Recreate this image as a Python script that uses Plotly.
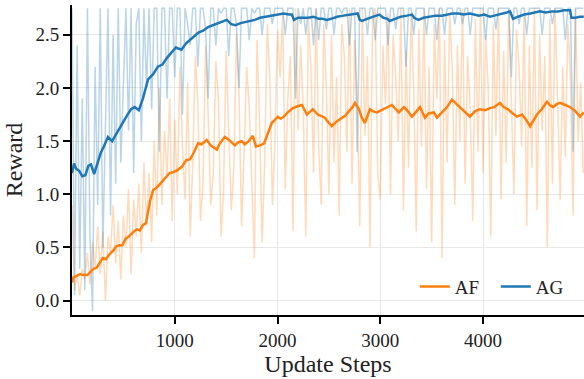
import numpy as np
import plotly.graph_objects as go

# raw logged rewards, every 25 update steps
raw_steps = np.arange(0, 5000, 25)

af_raw = [
    0.9, 0.1, 0.25, 0.05, 0.3, 0.2, 0.45, 0.15, 0.55, 0.3, 0.7, 0.25, 0.65, 0.0, 0.6, 0.45, 0.9, 0.35, 0.75, 0.2,
    0.8, 0.5, 1.05, 0.25, 0.95, 0.6, 1.1, 0.45, 1.3, 0.7, 1.2, 0.55, 1.5, 0.8, 2.0, 0.9, 1.6, 1.15, 1.9, 0.75,
    1.7, 1.0, 2.2, 1.45, 0.95, 2.05, 0.6, 1.3, 2.3, 1.85, 0.75, 1.1, 2.4, 1.75, 0.9, 1.2, 2.25, 1.9, 0.6, 1.05,
    2.35, 1.6, 0.85, 1.25, 2.5, 1.95, 0.7, 1.4, 2.2, 1.8, 1.15, 0.4, 2.45, 1.7, 0.55, 1.3, 2.6, 2.1, 0.9, 1.5,
    2.55, 2.1, 2.7, 1.05, 1.9, 2.3, 0.65, 2.75, 1.6, 2.4, 1.8, 0.6, 2.65, 2.2, 1.2, 2.75, 1.45, 0.9, 2.6, 2.0,
    1.0, 2.5, 1.3, 2.1, 0.8, 2.6, 2.3, 1.4, 2.75, 1.1, 2.45, 1.9, 0.7, 2.75, 1.55, 2.3, 0.5, 2.65, 2.75, 1.2,
    0.95, 2.4, 1.85, 2.7, 1.0, 2.5, 2.1, 1.5, 2.75, 0.85, 2.35, 1.25, 2.7, 2.0, 0.65, 2.55, 1.45, 2.75, 1.05, 2.2,
    0.55, 2.6, 1.9, 2.75, 0.4, 2.45, 1.3, 2.7, 2.2, 0.9, 2.4, 1.5, 2.75, 1.1, 2.3, 1.8, 0.75, 2.65, 1.4, 2.75,
    1.2, 2.5, 2.0, 0.6, 2.6, 1.55, 2.75, 0.95, 2.35, 1.3, 2.75, 1.75, 1.0, 2.55, 2.2, 1.45, 2.7, 0.7, 2.4, 1.25,
    2.75, 0.85, 2.5, 1.6, 2.3, 0.5, 2.65, 1.1, 2.75, 1.9, 0.95, 2.2, 1.35, 2.6, 2.1, 0.8, 2.75, 1.5, 2.05, 1.2,
]

ag_raw = [
    2.75, 0.05, 2.4, 0.3, 1.9, 0.1, 2.75, 0.6, -0.1, 2.2, 0.9, 2.75, 0.5, 1.5, 2.75, 0.8, 2.5, 1.1, 2.75, 1.3,
    2.0, 2.75, 1.6, 2.75, 1.2, 2.6, 2.75, 1.5, 2.75, 2.0, 2.75, 1.8, 2.75, 2.75, 1.4, 2.75, 2.75, 1.9, 2.75, 2.75,
    2.1, 2.75, 2.75, 1.75, 2.75, 2.6, 2.4, 2.75, 2.75, 2.2, 2.75, 2.75, 2.55, 1.9, 2.75, 2.75, 2.4, 2.75, 2.7, 2.75,
    2.75, 2.3, 2.75, 2.75, 2.6, 2.0, 2.75, 2.75, 2.75, 2.45, 2.75, 2.7, 2.75, 2.75, 2.5, 2.75, 2.75, 2.75, 2.6, 2.75,
    2.75, 2.75, 2.75, 2.5, 2.75, 2.75, 2.75, 1.9, 2.75, 2.6, 2.75, 2.5, 2.75, 2.75, 2.4, 2.75, 2.45, 2.75, 2.75, 2.55,
    2.75, 2.75, 2.5, 2.75, 2.75, 2.7, 2.75, 2.75, 2.4, 2.75, 2.75, 1.4, 2.75, 2.75, 2.75, 2.5, 2.75, 2.75, 2.45, 2.75,
    2.75, 2.75, 2.75, 2.4, 2.75, 2.75, 2.55, 2.75, 2.75, 2.75, 2.2, 2.75, 2.75, 2.5, 2.75, 2.75, 2.75, 2.75, 2.5, 2.75,
    2.75, 2.75, 2.45, 2.75, 2.75, 2.5, 2.75, 2.75, 2.75, 2.6, 2.75, 2.75, 2.6, 2.75, 2.75, 2.5, 2.75, 2.75, 2.75, 2.75,
    2.75, 2.45, 2.75, 2.75, 2.75, 2.55, 2.75, 2.75, 2.75, 2.75, 2.75, 2.1, 2.75, 2.75, 2.6, 2.75, 2.75, 2.5, 2.75, 2.75,
    2.75, 2.75, 2.75, 2.5, 2.75, 2.75, 2.75, 2.6, 2.75, 2.75, 2.75, 2.75, 2.45, 2.75, 2.75, 1.4, 2.75, 2.75, 2.75, 2.75,
]

# smoothed curves
af_smooth_x = [0, 15, 40, 80, 110, 150, 180, 210, 240, 270, 300, 330, 360, 400, 430, 460, 490, 520, 550, 590,
               630, 660, 690, 720, 760, 790, 820, 860, 900, 950, 990, 1030, 1070, 1110, 1150, 1190, 1226, 1260,
               1311, 1350, 1409, 1440, 1487, 1530, 1584, 1620, 1652, 1681, 1720, 1759, 1790, 1830, 1870, 1910,
               1944, 1975, 2003, 2030, 2060, 2100, 2149, 2200, 2237, 2260, 2285, 2320, 2343, 2392, 2430, 2460,
               2500, 2528, 2570, 2626, 2660, 2694, 2730, 2753, 2792, 2820, 2850, 2899, 2930, 2967, 3010, 3060,
               3113, 3150, 3181, 3230, 3270, 3308, 3350, 3386, 3435, 3470, 3522, 3551, 3600, 3650, 3697, 3740,
               3775, 3820, 3872, 3920, 3970, 4020, 4067, 4110, 4164, 4200, 4242, 4290, 4330, 4379, 4420, 4457,
               4490, 4525, 4570, 4622, 4650, 4681, 4720, 4749, 4800, 4846, 4900, 4944, 4980]
af_smooth = [0.17, 0.22, 0.23, 0.25, 0.24, 0.24, 0.27, 0.30, 0.31, 0.36, 0.40, 0.39, 0.43, 0.47, 0.51, 0.52, 0.52, 0.58, 0.60, 0.64,
             0.67, 0.66, 0.71, 0.73, 0.94, 1.04, 1.06, 1.10, 1.14, 1.20, 1.21, 1.23, 1.26, 1.32, 1.33, 1.40, 1.48, 1.47,
             1.51, 1.46, 1.42, 1.48, 1.54, 1.51, 1.46, 1.49, 1.50, 1.47, 1.50, 1.55, 1.45, 1.46, 1.48, 1.58,
             1.67, 1.70, 1.73, 1.71, 1.73, 1.77, 1.81, 1.83, 1.84, 1.80, 1.75, 1.78, 1.80, 1.75, 1.73, 1.72,
             1.67, 1.64, 1.68, 1.72, 1.74, 1.78, 1.82, 1.86, 1.80, 1.72, 1.67, 1.80, 1.78, 1.77, 1.79, 1.82,
             1.84, 1.80, 1.77, 1.82, 1.78, 1.73, 1.78, 1.82, 1.72, 1.76, 1.77, 1.72, 1.77, 1.82, 1.89, 1.85,
             1.82, 1.77, 1.73, 1.78, 1.80, 1.79, 1.81, 1.82, 1.86, 1.82, 1.80, 1.76, 1.73, 1.75, 1.70, 1.64,
             1.69, 1.75, 1.80, 1.87, 1.84, 1.82, 1.85, 1.86, 1.84, 1.82, 1.78, 1.73, 1.77]

ag_smooth_x = [0, 20, 40, 70, 100, 130, 160, 185, 215, 250, 280, 310, 350, 390, 430, 475, 510, 540, 575, 610,
               650, 690, 740, 790, 835, 880, 930, 970, 1010, 1065, 1110, 1170, 1230, 1280, 1320, 1370, 1420, 1460,
               1506, 1550, 1590, 1640, 1700, 1740, 1779, 1830, 1880, 1940, 2003, 2060, 2110, 2139, 2160, 2200,
               2260, 2300, 2350, 2400, 2440, 2480, 2520, 2580, 2640, 2700, 2753, 2780, 2800, 2821, 2870, 2930,
               2990, 3030, 3070, 3090, 3140, 3200, 3260, 3308, 3330, 3370, 3420, 3480, 3540, 3600, 3650, 3700,
               3760, 3810, 3872, 3920, 3960, 4010, 4067, 4110, 4160, 4230, 4262, 4291, 4340, 4400, 4460, 4520,
               4554, 4610, 4670, 4730, 4790, 4846, 4860, 4900, 4940, 4980]
ag_smooth = [1.20, 1.29, 1.24, 1.22, 1.17, 1.18, 1.27, 1.28, 1.19, 1.30, 1.39, 1.45, 1.54, 1.50, 1.57, 1.64, 1.70, 1.75, 1.80, 1.82,
             1.79, 1.90, 2.08, 2.13, 2.20, 2.22, 2.29, 2.34, 2.38, 2.36, 2.42, 2.47, 2.52, 2.54, 2.57, 2.59, 2.61, 2.62,
             2.64, 2.60, 2.59, 2.61, 2.62, 2.63, 2.64, 2.66, 2.67, 2.68, 2.69, 2.70, 2.69, 2.69, 2.64, 2.66,
             2.66, 2.66, 2.67, 2.65, 2.65, 2.64, 2.65, 2.67, 2.68, 2.69, 2.70, 2.70, 2.64, 2.63, 2.65, 2.67,
             2.69, 2.66, 2.65, 2.63, 2.65, 2.67, 2.68, 2.69, 2.66, 2.64, 2.66, 2.67, 2.68, 2.68, 2.69, 2.70,
             2.70, 2.69, 2.70, 2.69, 2.68, 2.69, 2.67, 2.68, 2.69, 2.71, 2.72, 2.65, 2.67, 2.69, 2.70, 2.71,
             2.72, 2.71, 2.72, 2.72, 2.73, 2.73, 2.66, 2.66, 2.67, 2.67]

x_ticks = [1000, 2000, 3000, 4000]
y_ticks = [0.0, 0.5, 1.0, 1.5, 2.0, 2.5]

ORANGE = "#ff7f0e"
BLUE = "#1f77b4"
FONT = "Liberation Serif"

fig = go.Figure()
fig.add_trace(go.Scatter(x=raw_steps, y=af_raw, mode="lines", line=dict(color=ORANGE, width=1.5),
                         opacity=0.28, showlegend=False, hoverinfo="skip"))
fig.add_trace(go.Scatter(x=raw_steps, y=ag_raw, mode="lines", line=dict(color=BLUE, width=1.5),
                         opacity=0.3, showlegend=False, hoverinfo="skip"))
fig.add_trace(go.Scatter(x=af_smooth_x, y=af_smooth, mode="lines", name="AF",
                         line=dict(color=ORANGE, width=2.5)))
fig.add_trace(go.Scatter(x=ag_smooth_x, y=ag_smooth, mode="lines", name="AG",
                         line=dict(color=BLUE, width=2.5)))

axis_common = dict(showline=True, linecolor="black", linewidth=2, ticks="outside", ticklen=7,
                   tickwidth=1.5, tickcolor="black", showgrid=True, gridcolor="#e8e8e8", gridwidth=1,
                   zeroline=False, tickfont=dict(family=FONT, size=19, color="#222"))

fig.update_layout(
    width=584, height=379,
    margin=dict(l=72, r=0, t=5, b=64),
    plot_bgcolor="white", paper_bgcolor="white",
    font=dict(family=FONT, color="#222"),
    xaxis=dict(range=[0, 4982], tickvals=x_ticks, ticktext=[str(v) for v in x_ticks],
               title=dict(text="Update Steps", font=dict(family=FONT, size=24), standoff=4),
               **axis_common),
    yaxis=dict(range=[-0.135, 2.78], tickvals=y_ticks, ticktext=[f"{v:.1f}" for v in y_ticks],
               title=dict(text="Reward", font=dict(family=FONT, size=24), standoff=6),
               **axis_common),
    legend=dict(orientation="h", x=0.986, xanchor="right", y=0.03, yanchor="bottom",
                bgcolor="rgba(0,0,0,0)", font=dict(family=FONT, size=19), itemwidth=30,
                entrywidth=36, tracegroupgap=0),
)

fig.write_html("out.html")
